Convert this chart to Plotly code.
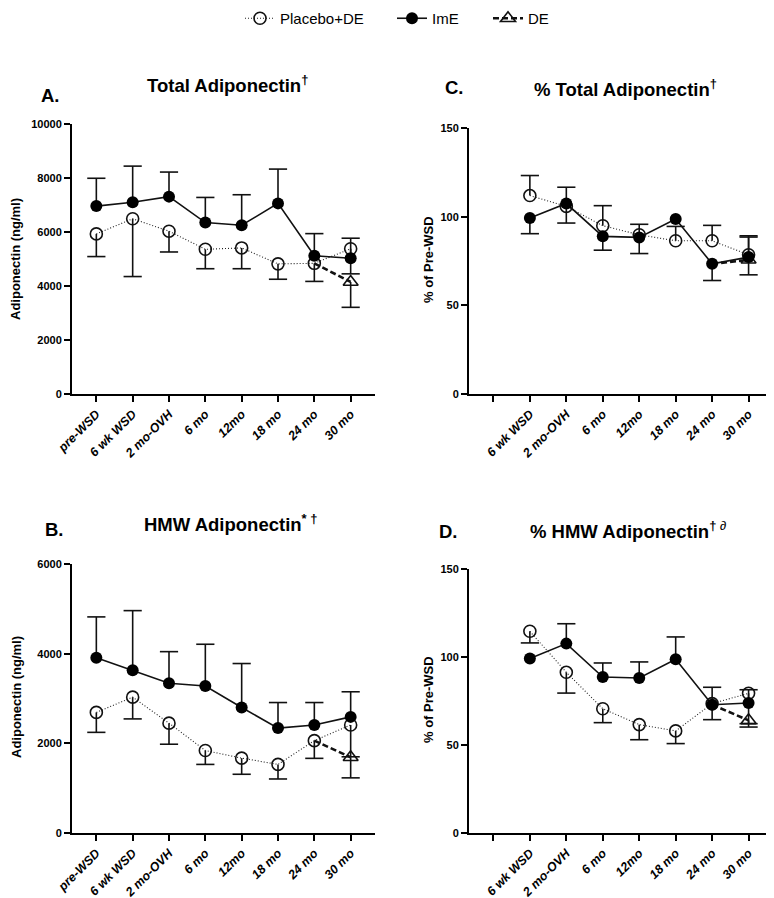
import plotly.graph_objects as go

# ---------------- data ----------------
CATS_AB = ["pre-WSD", "6 wk WSD", "2 mo-OVH", "6 mo", "12mo", "18 mo", "24 mo", "30 mo"]
CATS_CD = ["", "6 wk WSD", "2 mo-OVH", "6 mo", "12mo", "18 mo", "24 mo", "30 mo"]

# Panel A: Total adiponectin (ng/ml)
A_PLACEBO = [5930, 6490, 6030, 5360, 5410, 4820, 4840, 5380]
A_PLACEBO_BAR = [5090, 4350, 5260, 4640, 4640, 4250, 4170, 4450]   # lower end of error bar
A_IME = [6960, 7100, 7310, 6350, 6250, 7060, 5120, 5030]
A_IME_BAR = [7990, 8440, 8220, 7280, 7380, 8330, 5940, 5770]       # upper end
A_DE = [None, None, None, None, None, None, 4840, 4150]
A_DE_BAR = [None, None, None, None, None, None, None, 3210]          # lower end

# Panel B: HMW adiponectin (ng/ml)
B_PLACEBO = [2690, 3030, 2450, 1840, 1670, 1530, 2060, 2410]
B_PLACEBO_BAR = [2245, 2545, 1980, 1530, 1310, 1205, 1665, 1700]
B_IME = [3910, 3630, 3340, 3280, 2800, 2340, 2410, 2590]
B_IME_BAR = [4820, 4960, 4045, 4210, 3780, 2910, 2910, 3150]
B_DE = [None, None, None, None, None, None, 2060, 1690]
B_DE_BAR = [None, None, None, None, None, None, None, 1230]

# Panel C: % total adiponectin (% of pre-WSD)
C_PLACEBO = [None, 111.9, 105.8, 94.9, 89.8, 86.4, 86.4, 78.5]
C_PLACEBO_BAR = [None, 123.2, 116.6, 106.2, 95.7, 94.5, 95.1, 89.2]   # upper end
C_IME = [None, 99.2, 107.4, 88.9, 88.3, 98.7, 73.4, 77.2]
C_IME_BAR = [None, 90.4, 96.4, 81.1, 79.2, None, 64.0, 67.2]          # lower end
C_DE = [None, None, None, None, None, None, 73.4, 75.7]
C_DE_BAR = [None, None, None, None, None, None, None, 88.5]            # upper end

# Panel D: % HMW adiponectin (% of pre-WSD)
D_PLACEBO = [None, 114.6, 91.3, 70.6, 61.6, 58.0, 73.5, 79.4]
D_PLACEBO_BAR = [None, 108.0, 79.5, 62.7, 53.0, 50.8, 64.4, 62.1]     # lower end
D_IME = [None, 99.1, 107.6, 88.6, 88.1, 98.7, 72.9, 73.9]
D_IME_BAR = [None, None, 118.9, 96.6, 97.2, 111.4, 82.8, 81.4]        # upper end
D_DE = [None, None, None, None, None, None, 72.9, 64.0]
D_DE_BAR = [None, None, None, None, None, None, None, 60.2]            # lower end

A_YTICKS = [0, 2000, 4000, 6000, 8000, 10000]
B_YTICKS = [0, 2000, 4000, 6000]
CD_YTICKS = [0, 50, 100, 150]

FONT = "Liberation Sans, Arial, Helvetica, sans-serif"
W, H = 774, 898
OFF = 8  # page body margin of the html page

fig = go.Figure()


def err_arrays(mean, bar):
    up, dn = [], []
    for m, b in zip(mean, bar):
        if m is None or b is None:
            up.append(0); dn.append(0)
        elif b >= m:
            up.append(b - m); dn.append(0)
        else:
            up.append(0); dn.append(m - b)
    return up, dn


def add_errors(mean, bar, xa, ya):
    up, dn = err_arrays(mean, bar)
    x = list(range(len(mean)))
    fig.add_trace(go.Scatter(
        x=x, y=mean, mode="markers",
        marker=dict(size=0.1, opacity=0), showlegend=False, hoverinfo="skip",
        error_y=dict(type="data", symmetric=False, array=up, arrayminus=dn,
                     width=0, thickness=1.6, color="#111"),
        xaxis=xa, yaxis=ya))
    cx = [i for i, (m, b) in enumerate(zip(mean, bar)) if m is not None and b is not None]
    cy = [bar[i] for i in cx]
    fig.add_trace(go.Scatter(
        x=cx, y=cy, mode="markers", showlegend=False, hoverinfo="skip",
        marker=dict(symbol="line-ew", size=13, line=dict(width=1.6, color="#111")),
        xaxis=xa, yaxis=ya))


def add_panel(n, placebo, placebo_bar, ime, ime_bar, de, de_bar):
    xa = "x" if n == 1 else f"x{n}"
    ya = "y" if n == 1 else f"y{n}"
    first = n == 1
    x = list(range(len(placebo)))
    # Placebo+DE
    add_errors(placebo, placebo_bar, xa, ya)
    fig.add_trace(go.Scatter(
        x=x, y=placebo, mode="lines+markers", name="Placebo+DE",
        legend="legend", showlegend=first,
        line=dict(color="#222", width=1.1, dash="1px,2px"),
        marker=dict(symbol="circle-open", size=12, color="#111", line=dict(width=1.6)),
        xaxis=xa, yaxis=ya))
    # DE dashed segment
    fig.add_trace(go.Scatter(
        x=x, y=de, mode="lines", showlegend=False, hoverinfo="skip",
        line=dict(color="#111", width=2.6, dash="6px,3px"), xaxis=xa, yaxis=ya))
    add_errors(de, de_bar, xa, ya)
    mi = [i for i, b in enumerate(de_bar) if b is not None]
    fig.add_trace(go.Scatter(
        x=mi, y=[de[i] for i in mi], mode="lines+markers", name="DE",
        legend="legend3", showlegend=first,
        line=dict(color="#111", width=2.6, dash="6px,3px"),
        marker=dict(symbol="triangle-up-open", size=13, color="#111", line=dict(width=1.6)),
        xaxis=xa, yaxis=ya))
    # ImE
    add_errors(ime, ime_bar, xa, ya)
    fig.add_trace(go.Scatter(
        x=x, y=ime, mode="lines+markers", name="ImE",
        legend="legend2", showlegend=first,
        line=dict(color="#111", width=1.6),
        marker=dict(symbol="circle", size=12, color="#000"),
        xaxis=xa, yaxis=ya))


add_panel(1, A_PLACEBO, A_PLACEBO_BAR, A_IME, A_IME_BAR, A_DE, A_DE_BAR)
add_panel(2, B_PLACEBO, B_PLACEBO_BAR, B_IME, B_IME_BAR, B_DE, B_DE_BAR)
add_panel(3, C_PLACEBO, C_PLACEBO_BAR, C_IME, C_IME_BAR, C_DE, C_DE_BAR)
add_panel(4, D_PLACEBO, D_PLACEBO_BAR, D_IME, D_IME_BAR, D_DE, D_DE_BAR)


def px_x(v):
    return (v - OFF) / W


def px_y(v):
    return 1 - (v - OFF) / H


def xaxis(left, right, anchor, cats):
    return dict(domain=[px_x(left), px_x(right)], anchor=anchor, automargin=False,
                range=[-0.67, 7.67], tickmode="array", tickvals=list(range(len(cats))),
                ticktext=cats, tickangle=-45,
                showline=True, linecolor="#000", linewidth=2,
                ticks="outside", ticklen=6, tickwidth=2, tickcolor="#000",
                showgrid=False, zeroline=False,
                tickfont=dict(family=FONT, size=12.5, color="#000", weight="bold", style="italic"))


def yaxis(top, bottom, anchor, rng, ticks):
    return dict(domain=[px_y(bottom), px_y(top)], anchor=anchor, automargin=False,
                range=rng, tickmode="array", tickvals=ticks, ticktext=[str(t) for t in ticks],
                showline=True, linecolor="#000", linewidth=2,
                ticks="outside", ticklen=6, tickwidth=2, tickcolor="#000",
                showgrid=False, zeroline=False,
                tickfont=dict(family=FONT, size=11, color="#000", weight="bold"))


def legend_at(xpx):
    return dict(orientation="h", x=px_x(xpx), xanchor="left", y=px_y(2), yanchor="top",
                font=dict(family=FONT, size=15, color="#000"),
                itemwidth=30, bgcolor="rgba(0,0,0,0)")


fig.update_layout(
    width=W, height=H, margin=dict(l=0, r=0, t=0, b=0, autoexpand=False),
    paper_bgcolor="white", plot_bgcolor="white",
    font=dict(family=FONT, color="#000"),
    xaxis=xaxis(72, 375, "y", CATS_AB),
    yaxis=yaxis(124, 394, "x", [0, 10000], A_YTICKS),
    xaxis2=xaxis(72, 375, "y2", CATS_AB),
    yaxis2=yaxis(564, 833, "x2", [0, 6000], B_YTICKS),
    xaxis3=xaxis(469, 773, "y3", CATS_CD),
    yaxis3=yaxis(128, 394, "x3", [0, 150], CD_YTICKS),
    xaxis4=xaxis(469, 773, "y4", CATS_CD),
    yaxis4=yaxis(569, 833, "x4", [0, 150], CD_YTICKS),
    legend=legend_at(240),
    legend2=legend_at(392),
    legend3=legend_at(488),
    showlegend=True,
)

annotations = []


def text(x, y, s, size, angle=0, anchor="left"):
    annotations.append(dict(x=px_x(x), y=px_y(y), xref="paper", yref="paper",
                            text=s, showarrow=False, xanchor=anchor, yanchor="middle",
                            textangle=angle, font=dict(family=FONT, size=size, color="#000")))


# panel titles and letters
text(145, 84, "<b>Total Adiponectin</b><sup><b>†</b></sup>", 18.5)
text(39, 95, "<b>A.</b>", 18.5)
text(142, 523, "<b>HMW Adiponectin</b><sup><b>* †</b></sup>", 18.5)
text(43, 529, "<b>B.</b>", 18.5)
text(532, 88, "<b>% Total Adiponectin</b><sup><b>†</b></sup>", 18.5)
text(443, 88, "<b>C.</b>", 18.5)
text(528, 530, "<b>% HMW Adiponectin</b><sup><b>†</b> <i>∂</i></sup>", 18.5)
text(437, 531, "<b>D.</b>", 18.5)

# y-axis titles
text(16, 259, "<b>Adiponectin (ng/ml)</b>", 13, angle=-90, anchor="center")
text(16, 697, "<b>Adiponectin (ng/ml)</b>", 13, angle=-90, anchor="center")
text(428, 260, "<b>% of Pre-WSD</b>", 13, angle=-90, anchor="center")
text(428, 700, "<b>% of Pre-WSD</b>", 13, angle=-90, anchor="center")

fig.update_layout(annotations=annotations)

fig.write_html("out.html")
